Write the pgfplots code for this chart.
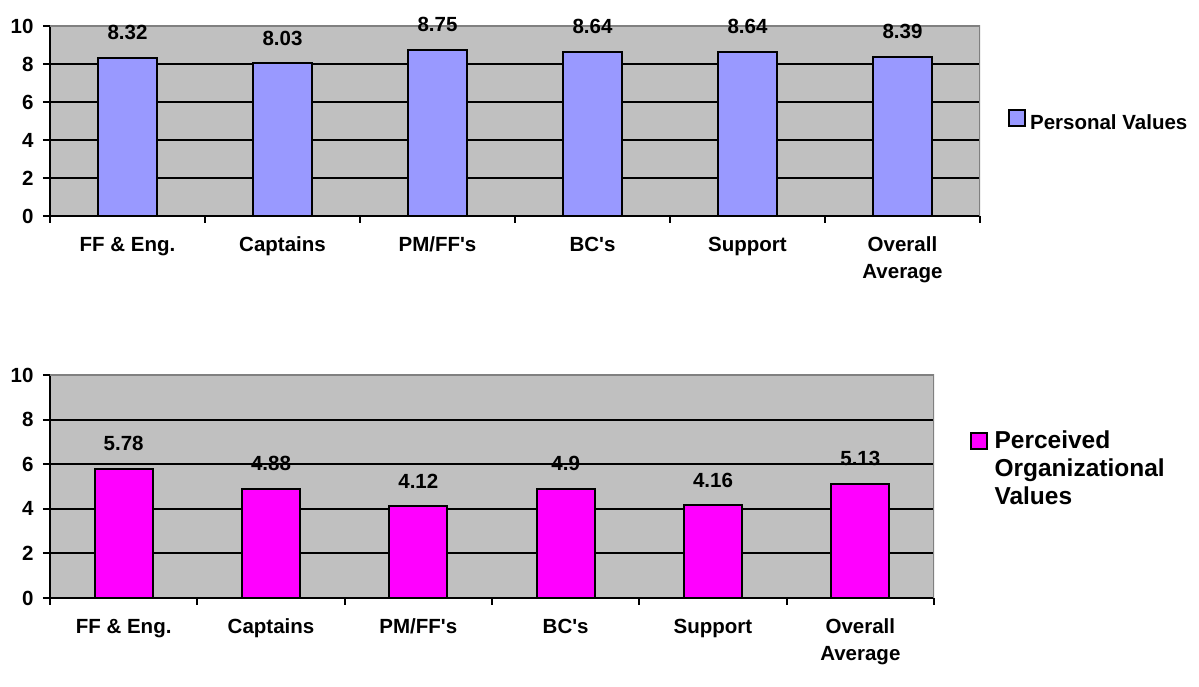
\documentclass[border=0pt]{standalone}
\usepackage{fontspec}
\setmainfont{Liberation Sans}
\usepackage{pgfplots}
\pgfplotsset{compat=1.18}
\definecolor{plotbg}{HTML}{C0C0C0}
\definecolor{barA}{HTML}{9999FF}
\definecolor{barB}{HTML}{FF00FF}
\definecolor{frameg}{HTML}{808080}
\newcommand\f{\fontsize{20.5}{27}\selectfont\bfseries}
\newcommand\fl{\fontsize{24.5}{28}\selectfont\bfseries}
\pgfplotsset{
 common/.style={
  scale only axis, ybar, ymin=0, ymax=10, xmin=-0.5, xmax=5.5, enlargelimits=false,
  axis lines=left, axis line style={-, line width=2pt, black},
  axis background/.style={fill=plotbg},
  ytick={0,2,...,10}, ymajorgrids, grid style={black, line width=2pt},
  xtick={0,...,5},
  xticklabels={FF \& Eng., Captains, PM/FF\textquotesingle s, BC\textquotesingle s, Support, {\begin{tabular}[t]{@{}c@{}}Overall\\Average\end{tabular}}},
  minor xtick={-0.5,0.5,...,5.5},
  tick align=outside, major tick length=7pt, minor tick length=7pt,
  every major x tick/.append style={draw=none},
  tick style={black, line width=2pt},
  ticklabel style={font=\f},
  xticklabel style={anchor=base, yshift=-29pt},
  yticklabel style={xshift=-6pt},
  /pgf/number format/assume math mode=true,
  nodes near coords, point meta=explicit symbolic,
  nodes near coords style={font=\f, inner sep=0pt, anchor=south, yshift=17pt},
  legend cell align=left,
 }
}
\begin{document}
\begin{tikzpicture}
\path[use as bounding box] (0,0) rectangle (1199pt,687pt);
\begin{axis}[common, at={(50pt,471pt)}, anchor=south west,
  width=930pt, height=190pt, bar width=59pt,
  legend image code/.code={\draw[#1, line width=2pt] (0pt,-4pt) rectangle (16pt,12pt);},
  legend style={at={(1.03,0.5)}, anchor=west, draw=none, fill=none, font=\f, inner sep=0pt, column sep=2pt}]
\addplot[fill=barA, draw=black, line width=2pt] coordinates {
 (0,8.32) [8.32] (1,8.03) [8.03] (2,8.75) [8.75] (3,8.64) [8.64] (4,8.64) [8.64] (5,8.39) [8.39]};
\addlegendentry{Personal Values}
\draw[frameg, line width=2pt] (rel axis cs:0,1) -- (rel axis cs:1,1) -- (rel axis cs:1,0);
\end{axis}
\begin{axis}[common, at={(50pt,89pt)}, anchor=south west,
  width=884pt, height=223pt, bar width=58pt,
  legend image code/.code={\draw[#1, line width=2pt] (0pt,20pt) rectangle (16pt,36pt);},
  legend style={at={(1.04,0.58)}, anchor=west, draw=none, fill=none, font=\fl, inner sep=0pt, column sep=5pt, nodes={align=left}}]
\addplot[fill=barB, draw=black, line width=2pt] coordinates {
 (0,5.78) [5.78] (1,4.88) [4.88] (2,4.12) [4.12] (3,4.9) [4.9] (4,4.16) [4.16] (5,5.13) [5.13]};
\addlegendentry{Perceived\\Organizational\\Values}
\draw[frameg, line width=2pt] (rel axis cs:0,1) -- (rel axis cs:1,1) -- (rel axis cs:1,0);
\end{axis}
\end{tikzpicture}
\end{document}
